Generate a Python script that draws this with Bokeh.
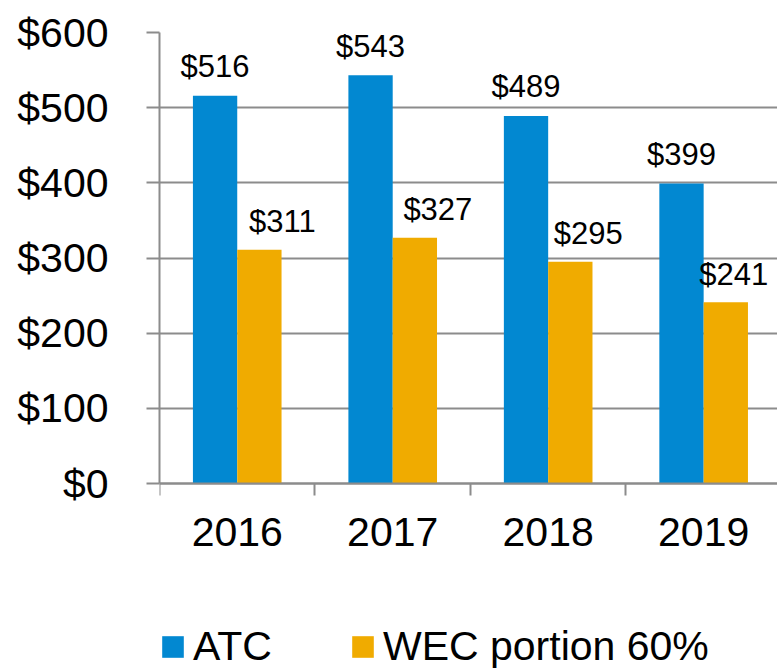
from bokeh.plotting import figure
from bokeh.models import (Range1d, FixedTicker, ColumnDataSource, Legend,
                          LegendItem, NumeralTickFormatter)
from bokeh.transform import dodge
from bokeh.core.properties import value
from bokeh.embed import file_html
from bokeh.resources import INLINE

# ---- data ----
years = ["2016", "2017", "2018", "2019"]
atc = [516, 543, 489, 399]
wec = [311, 327, 295, 241]
y_ticks = [0, 100, 200, 300, 400, 500, 600]
series_names = ["ATC", "WEC portion 60%"]

# ---- style / layout ----
BLUE = "#0288D1"
ORANGE = "#F0AB00"
GRID = "#8C8C8C"
FONT = "Liberation Sans"
BAR_W = 0.285
wec_label_dx = [23, 23, 18, 8]   # label nudges (px), as in original
W, H = 777, 671
TOP, PLOT_H = 32, 451            # pixel height of the 0..600 value band
Y_MAX = y_ticks[-1]
Y_MIN = -Y_MAX * (H - TOP - PLOT_H) / PLOT_H   # room below zero for labels/legend

centers = [i + 0.5 for i in range(len(years))]
bounds = [i for i in range(len(years) + 1)]

src = ColumnDataSource(dict(
    x=centers, atc=atc, wec=wec,
    atc_lbl=[f"${v}" for v in atc],
    wec_lbl=[f"${v}" for v in wec],
    wec_dx=wec_label_dx,
))

p = figure(width=W, height=H,
           x_range=Range1d(0, 3.975), y_range=Range1d(Y_MIN, Y_MAX),
           output_backend="svg", toolbar_location=None,
           min_border_left=159, min_border_right=0,
           min_border_top=TOP, min_border_bottom=0)
p.outline_line_color = None
p.background_fill_color = "white"
p.border_fill_color = "white"

r1 = p.vbar(x=dodge("x", -BAR_W / 2, range=p.x_range), top="atc", width=BAR_W,
            source=src, fill_color=BLUE, line_color=None)
r2 = p.vbar(x=dodge("x", BAR_W / 2, range=p.x_range), top="wec", width=BAR_W,
            source=src, fill_color=ORANGE, line_color=None)

p.text(x=dodge("x", -BAR_W / 2, range=p.x_range), y="atc", text="atc_lbl",
       source=src, text_align="center", text_baseline="alphabetic",
       y_offset=-29, text_font=value(FONT), text_font_size="31px",
       text_color="black")
p.text(x=dodge("x", BAR_W / 2, range=p.x_range), y="wec", text="wec_lbl",
       source=src, text_align="center", text_baseline="alphabetic",
       x_offset="wec_dx", y_offset=-28, text_font=value(FONT),
       text_font_size="31px", text_color="black")

# y axis
yax = p.yaxis[0]
yax.ticker = FixedTicker(ticks=y_ticks)
yax.bounds = (0, Y_MAX)
yax.formatter = NumeralTickFormatter(format="$0")
yax.major_label_text_font = FONT
yax.major_label_text_font_size = "41px"
yax.major_label_text_color = "black"
yax.major_tick_out = 13
yax.major_tick_in = 0
yax.minor_tick_out = 0
yax.minor_tick_in = 0
yax.major_tick_line_color = GRID
yax.major_tick_line_width = 2
yax.axis_line_color = GRID
yax.axis_line_width = 2
yax.major_label_standoff = 38

# x axis, pinned at value 0
xax = p.xaxis[0]
xax.fixed_location = 0
xax.ticker = FixedTicker(ticks=centers, minor_ticks=bounds)
xax.major_label_overrides = {c: y for c, y in zip(centers, years)}
xax.major_label_text_font = FONT
xax.major_label_text_font_size = "41px"
xax.major_label_text_color = "black"
xax.major_tick_out = 0
xax.major_tick_in = 0
xax.minor_tick_out = 12
xax.minor_tick_in = 0
xax.minor_tick_line_color = GRID
xax.minor_tick_line_width = 2
xax.axis_line_color = GRID
xax.axis_line_width = 2
xax.major_label_standoff = 22

p.xgrid.grid_line_color = None
p.ygrid.ticker = FixedTicker(ticks=y_ticks)
p.ygrid.grid_line_color = GRID
p.ygrid.grid_line_width = 2

legend = Legend(items=[LegendItem(label=series_names[0], renderers=[r1]),
                       LegendItem(label=series_names[1], renderers=[r2])],
                orientation="horizontal", location=(0, 1),
                glyph_width=27, glyph_height=27, label_standoff=7,
                spacing=77, padding=0, margin=0,
                border_line_color=None, background_fill_alpha=0,
                label_text_font=FONT, label_text_font_size="41px",
                label_text_color="black")
p.add_layout(legend, "center")

open("out.html", "w").write(file_html(p, INLINE))
